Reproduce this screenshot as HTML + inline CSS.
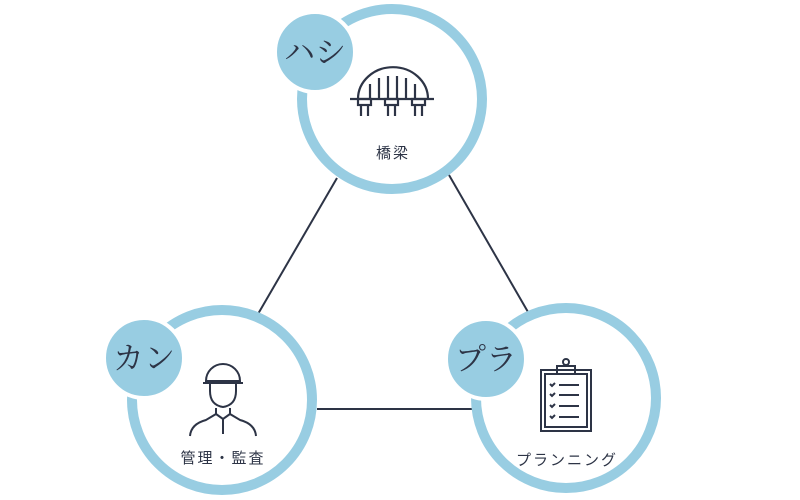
<!DOCTYPE html>
<html><head><meta charset="utf-8"><style>
html,body{margin:0;padding:0;background:#fff;}
svg{display:block}
</style></head><body>
<svg width="800" height="500" viewBox="0 0 800 500" xmlns="http://www.w3.org/2000/svg">
<g stroke="#2d3446" stroke-width="2">
<line x1="337" y1="178" x2="258" y2="314"/>
<line x1="449" y1="175" x2="528" y2="312"/>
<line x1="317" y1="409" x2="472" y2="409"/>
</g>
<g fill="#fff" stroke="#98cde2" stroke-width="10">
<circle cx="392" cy="99" r="90"/>
<circle cx="222" cy="400" r="90"/>
<circle cx="566" cy="398" r="90"/>
</g>
<g fill="#98cde2" stroke="#fff" stroke-width="4">
<circle cx="315" cy="52" r="40"/>
<circle cx="144" cy="358" r="40"/>
<circle cx="486" cy="359" r="40"/>
</g>
<g font-family="'Liberation Serif','Noto Serif CJK SC',serif" font-size="31" fill="#2d3446" text-anchor="middle">
<text x="315" y="63">ハシ</text>
<text x="144" y="369">カン</text>
<text x="486" y="370">プラ</text>
</g>
<g font-family="'Liberation Sans','Noto Sans CJK JP',sans-serif" font-size="15" fill="#2d3446" text-anchor="middle" letter-spacing="2">
<text x="393" y="158">橋梁</text>
<text x="223" y="463">管理・監査</text>
<text x="567" y="465">プランニング</text>
</g>
<!-- bridge icon -->
<g stroke="#2d3446" stroke-width="2.2" fill="none">
<path d="M358 99 A33 30 0 0 1 428 99"/>
<line x1="350" y1="99" x2="434" y2="99"/>
<line x1="370" y1="84" x2="370" y2="99"/><line x1="379" y1="78" x2="379" y2="99"/>
<line x1="388" y1="76" x2="388" y2="99"/><line x1="397" y1="76" x2="397" y2="99"/>
<line x1="406" y1="78" x2="406" y2="99"/><line x1="415" y1="84" x2="415" y2="99"/>
<rect x="358" y="99" width="13" height="6"/><rect x="385" y="99" width="13" height="6"/><rect x="412" y="99" width="13" height="6"/>
<path d="M361 105v11M368 105v11M388 105v11M395 105v11M415 105v11M422 105v11"/>
</g>
<!-- worker icon -->
<g stroke="#2d3446" stroke-width="2" fill="none">
<path d="M206 381 A17 17 0 0 1 240 381 Z"/>
<line x1="203" y1="383" x2="243" y2="383"/>
<path d="M210 383v8q0 14 13 16q13-2 13-16v-8"/>
<path d="M216 408v6l-10 6q-15 4-16 16M230 408v6l10 6q15 4 16 16"/>
<path d="M216 414l7 5l7-5M223 419v15"/>
</g>
<!-- clipboard icon -->
<g stroke="#2d3446" stroke-width="2" fill="none">
<rect x="541" y="370" width="50" height="61"/>
<rect x="545" y="374" width="42" height="53"/>
<rect x="557" y="366" width="18" height="8"/>
<circle cx="566" cy="362" r="3"/>
<path d="M550 384l2 2l3-3M550 394l2 2l3-3M550 405l2 2l3-3M550 416l2 2l3-3"/>
<path d="M559 385h20M559 395h20M559 406h20M559 417h20"/>
</g>
</svg>
</body></html>
